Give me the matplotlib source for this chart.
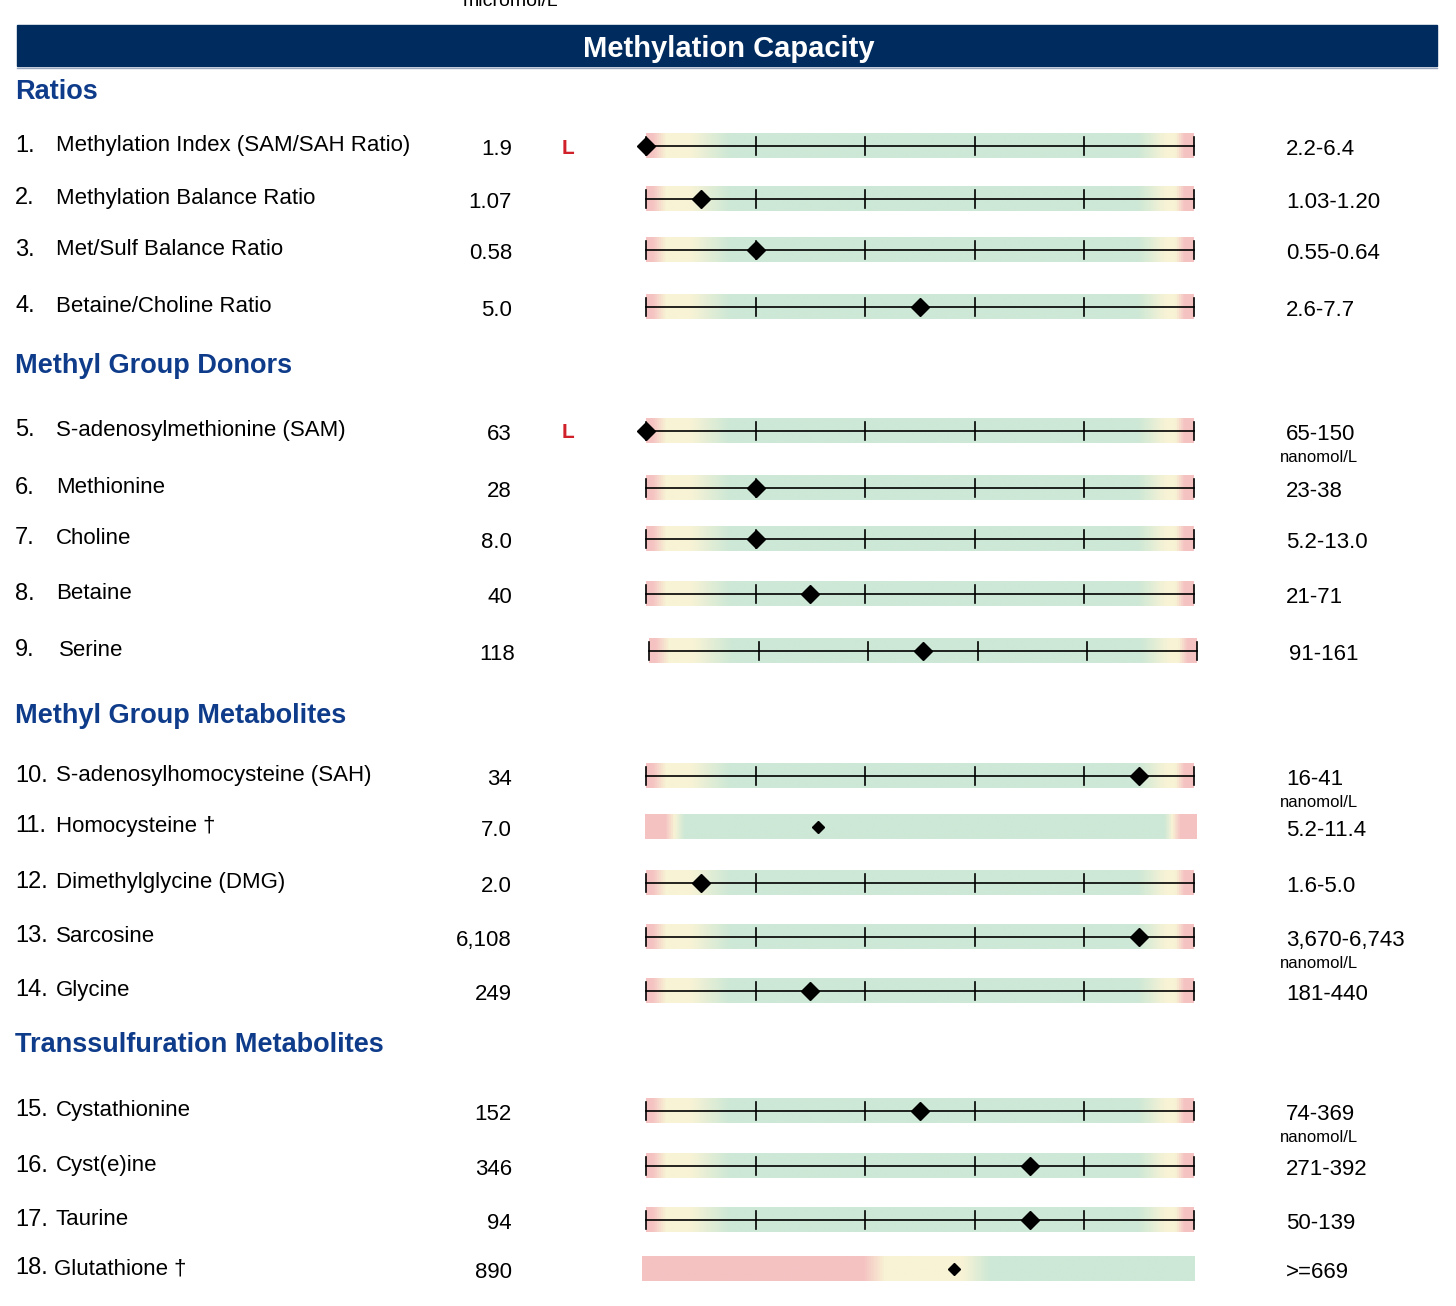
import numpy as np
import matplotlib
matplotlib.use('Agg')
import matplotlib.pyplot as plt
from matplotlib.colors import LinearSegmentedColormap
from matplotlib.patches import Rectangle

plt.rcParams['font.family'] = ['Liberation Sans', 'DejaVu Sans']

# ---- data ----
SECTIONS = ['Ratios', 'Methyl Group Donors', 'Methyl Group Metabolites',
            'Transsulfuration Metabolites']
NAMES = [
    'Methylation Index (SAM/SAH Ratio)', 'Methylation Balance Ratio',
    'Met/Sulf Balance Ratio', 'Betaine/Choline Ratio',
    'S-adenosylmethionine (SAM)', 'Methionine', 'Choline', 'Betaine', 'Serine',
    'S-adenosylhomocysteine (SAH)', 'Homocysteine †', 'Dimethylglycine (DMG)',
    'Sarcosine', 'Glycine',
    'Cystathionine', 'Cyst(e)ine', 'Taurine', 'Glutathione †',
]
VALUES = ['1.9', '1.07', '0.58', '5.0', '63', '28', '8.0', '40', '118',
          '34', '7.0', '2.0', '6,108', '249', '152', '346', '94', '890']
FLAGS = ['L', '', '', '', 'L', '', '', '', '', '', '', '', '', '', '', '', '', '']
RANGES = ['2.2-6.4', '1.03-1.20', '0.55-0.64', '2.6-7.7', '65-150', '23-38',
          '5.2-13.0', '21-71', '91-161', '16-41', '5.2-11.4', '1.6-5.0',
          '3,670-6,743', '181-440', '74-369', '271-392', '50-139', '>=669']
UNITS = ['', '', '', '', 'nanomol/L', '', '', '', '', 'nanomol/L', '', '',
         'nanomol/L', '', 'nanomol/L', '', '', '']
# marker position on the 5-segment scale (0 = left end, 5 = right end)
POSITIONS = [0, 0.5, 1, 2.5, 0, 1, 1, 1.5, 2.5, 4.5, 1.57, 0.5, 4.5, 1.5,
             2.5, 3.5, 3.5, 2.82]
# bar kind: 'scale' = ticked range bar, 'plain' = unticked range, 'min' = lower-limit only
KINDS = ['scale'] * 10 + ['plain'] + ['scale'] * 6 + ['min']

# ---- layout (pixels) ----
W, H = 1456, 1306
SECTION_Y = [89, 363, 713, 1042]
BAR_Y = [146, 199, 250, 307, 431, 488, 539, 594, 651, 776, 827, 883, 937,
         991, 1111, 1166, 1220, 1269]
BAR_X = {'scale': (646, 1194), 'plain': (645, 1197), 'min': (642, 1195)}
ROW_DX = {8: 3}   # Serine row sits a few pixels right in the report
BAR_H = 25

RED, YEL, GRN = '#f5c2c2', '#f8f3d5', '#cde8d6'
CMAPS = {
    'scale': LinearSegmentedColormap.from_list('scale', [
        (0, RED), (0.01, RED), (0.035, YEL), (0.08, YEL), (0.15, GRN),
        (0.90, GRN), (0.95, YEL), (0.968, YEL), (0.985, RED), (1, RED)]),
    'plain': LinearSegmentedColormap.from_list('plain', [
        (0, RED), (0.035, RED), (0.052, YEL), (0.07, GRN),
        (0.943, GRN), (0.957, YEL), (0.972, RED), (1, RED)]),
    'min': LinearSegmentedColormap.from_list('min', [
        (0, RED), (0.40, RED), (0.44, YEL), (0.58, YEL), (0.63, GRN), (1, GRN)]),
}


def draw_bar(ax, i):
    kind = KINDS[i]
    dx = ROW_DX.get(i, 0)
    x0, x1 = BAR_X[kind]
    x0, x1 = x0 + dx, x1 + dx
    y = BAR_Y[i]
    grad = np.linspace(0, 1, 512).reshape(1, -1)
    ax.imshow(grad, cmap=CMAPS[kind], extent=(x0, x1, y + BAR_H / 2, y - BAR_H / 2),
              aspect='auto', interpolation='bilinear', zorder=1)
    seg = (x1 - x0) / 5
    mx = x0 + POSITIONS[i] * seg
    if kind == 'scale':
        ax.plot([x0, x1], [y, y], color='black', lw=1.2, zorder=2)
        for k in range(6):
            xt = x0 + k * seg
            ax.plot([xt, xt], [y - 9, y + 9], color='black', lw=1.2, zorder=2)
        ax.plot(mx, y, marker='D', ms=9, color='black', zorder=3)
    else:
        ax.plot(mx, y, marker='D', ms=6.5, color='black', zorder=3)


def draw_row(ax, i):
    dx = ROW_DX.get(i, 0)
    y = BAR_Y[i]
    ty = y - 3
    ax.text(15, ty, f'{i + 1}.', fontsize=17, va='center_baseline', ha='left')
    name_x = 54 if i == 17 else 56 + dx
    ax.text(name_x, ty, NAMES[i], fontsize=16, va='center_baseline', ha='left')
    ax.text(512 + dx, y + 1, VALUES[i], fontsize=16, va='center_baseline', ha='right')
    if FLAGS[i]:
        ax.text(568, y, FLAGS[i], fontsize=15, fontweight='bold', color='#d0202a',
                va='center_baseline', ha='center')
    ax.text(1286 + dx, y + 1, RANGES[i], fontsize=16, va='center_baseline', ha='left')
    if UNITS[i]:
        ax.text(1280, y + 25, UNITS[i], fontsize=12, va='center_baseline', ha='left')
    draw_bar(ax, i)


def main():
    fig = plt.figure(figsize=(W / 100, H / 100), dpi=100)
    ax = fig.add_axes([0, 0, 1, 1])
    ax.set_xlim(0, W)
    ax.set_ylim(H, 0)
    ax.axis('off')

    # unit caption, cut off at the top edge as in the report
    ax.text(510, 6, 'micromol/L', fontsize=14, ha='center', va='baseline')

    # title banner
    ax.add_patch(Rectangle((17, 25), 1420, 41, color='#002b5e', zorder=1))
    ax.plot([17, 1437], [68, 68], color='#9aa8c0', lw=1)
    ax.text(729, 46, 'Methylation Capacity', color='white', fontsize=21,
            fontweight='bold', ha='center', va='center_baseline')

    for name, y in zip(SECTIONS, SECTION_Y):
        ax.text(15, y, name, color='#0f3c8a', fontsize=19.5, fontweight='bold',
                ha='left', va='center_baseline')

    for i in range(len(NAMES)):
        draw_row(ax, i)

    ax.set_xlim(0, W)
    ax.set_ylim(H, 0)
    ax.set_aspect('auto')
    fig.savefig('out.png', dpi=100)


if __name__ == '__main__':
    main()
